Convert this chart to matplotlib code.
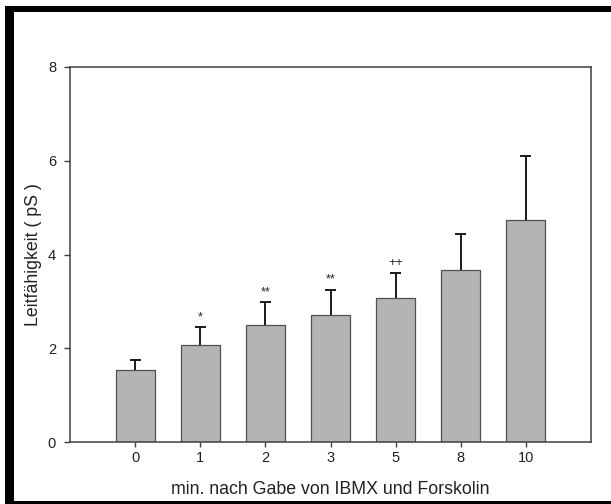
import matplotlib
matplotlib.use("Agg")
import matplotlib.pyplot as plt
from matplotlib.patches import Rectangle

plt.rcParams['font.family'] = ['Liberation Sans', 'DejaVu Sans']

# Conductance after IBMX + forskolin application
categories = ["0", "1", "2", "3", "5", "8", "10"]
means = [1.53, 2.06, 2.49, 2.72, 3.08, 3.67, 4.73]
errors = [0.23, 0.39, 0.49, 0.53, 0.53, 0.76, 1.38]
significance = ["", "*", "**", "**", "++", "", ""]

W, H, DPI = 611, 504, 100
fig = plt.figure(figsize=(W / DPI, H / DPI), dpi=DPI)
fig.patch.set_facecolor("white")

# black frame (left, top, bottom)
for (x0, y0, w, h) in [(5, 6, 9, 498), (5, 6, 606, 6), (5, 501, 606, 3)]:
    fig.patches.append(Rectangle((x0 / W, 1 - (y0 + h) / H), w / W, h / H,
                                 transform=fig.transFigure, facecolor="black",
                                 edgecolor="none", zorder=0))

ax = fig.add_axes([70 / W, 1 - 442 / H, 521 / W, 375 / H])
pos = list(range(len(categories)))
ax.bar(pos, means, width=0.6, color="#b4b4b4", edgecolor="#505050",
       linewidth=0.9, zorder=2)

# upper error whiskers with caps
tops = [m + e for m, e in zip(means, errors)]
cap = 0.085
ax.vlines(pos, means, tops, colors="#1a1a1a", linewidth=1.4, zorder=3)
ax.hlines(tops, [p - cap for p in pos], [p + cap for p in pos],
          colors="#1a1a1a", linewidth=1.4, zorder=3)

for p, t, s in zip(pos, tops, significance):
    if s:
        ax.annotate(s, (p, t), xytext=(0, 5), textcoords="offset points",
                    ha="center", va="baseline", fontsize=9, color="#222222")

ax.set_xlim(-1, 7)
ax.set_ylim(0, 8)
ax.set_xticks(pos)
ax.set_xticklabels(categories)
ax.set_yticks([0, 2, 4, 6, 8])

for sp in ax.spines.values():
    sp.set_color("#404040")
    sp.set_linewidth(1.1)

ax.tick_params(axis="both", direction="out", colors="#222222", labelsize=10.5,
               width=1.0, color="#404040")
ax.tick_params(axis="y", length=4, pad=6)
ax.tick_params(axis="x", length=3.5, pad=3)

ax.set_ylabel("Leitfähigkeit ( pS )", fontsize=12.8, color="#222222", va="center")
ax.yaxis.set_label_coords(-0.071, 0.5)
ax.set_xlabel("min. nach Gabe von IBMX und Forskolin", fontsize=12.8,
              color="#222222", va="center")
ax.xaxis.set_label_coords(0.5, -0.127)

fig.savefig("out.png", dpi=DPI)
